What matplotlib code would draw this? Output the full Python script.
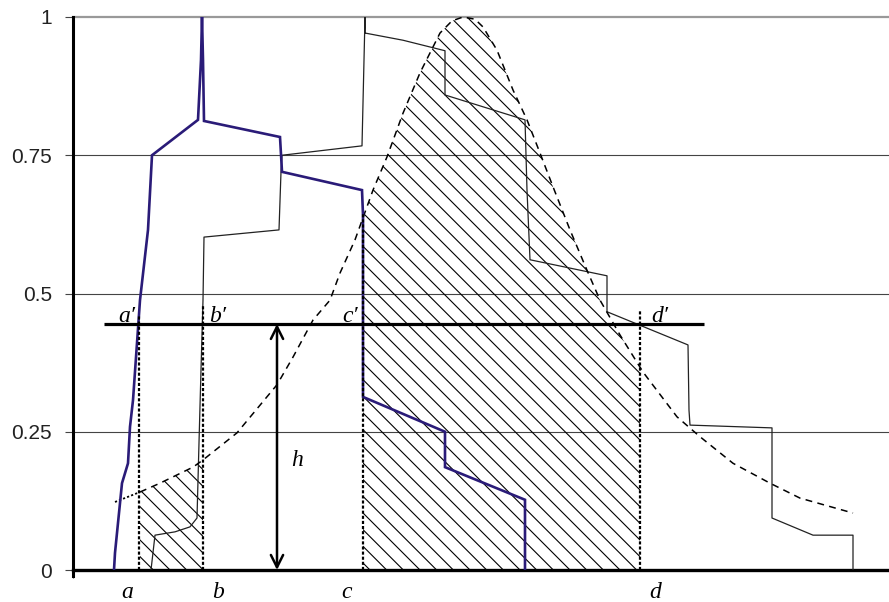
import numpy as np
import matplotlib
matplotlib.use("Agg")
import matplotlib.pyplot as plt
from matplotlib.patches import Rectangle

# ---- data (x in horizontal chart units, y in membership 0..1) ----
blue_x = [114, 115, 122, 128, 130, 133, 140, 148, 152, 198, 201, 202, 203, 204, 280, 282, 362, 363, 363, 445, 445, 525, 525]
blue_y = [0, 0.031, 0.157, 0.193, 0.259, 0.307, 0.488, 0.615, 0.750, 0.814, 0.922, 1.0, 0.922, 0.812, 0.783, 0.720, 0.687, 0.642, 0.313, 0.250, 0.186, 0.127, 0]

thin_x = [151, 155, 175, 190, 197, 199, 201, 203, 204, 279, 281, 282, 362, 364, 365, 365, 403, 445, 445, 525, 527, 530, 607, 607, 688, 689, 690, 772, 772, 813, 853, 853]
thin_y = [0, 0.063, 0.069, 0.078, 0.094, 0.230, 0.362, 0.488, 0.602, 0.615, 0.720, 0.750, 0.767, 0.922, 1.0, 0.971, 0.958, 0.939, 0.859, 0.814, 0.687, 0.561, 0.532, 0.467, 0.407, 0.289, 0.262, 0.257, 0.094, 0.063, 0.063, 0]

dash_x = [140, 160, 193, 203, 237, 277, 293, 313, 330, 340, 355, 373, 387, 403, 420, 440, 452, 463, 475, 483, 497, 513, 527, 540, 553, 570, 587, 600, 620, 643, 677, 700, 733, 770, 800, 853]
dash_y = [0.141, 0.157, 0.186, 0.199, 0.248, 0.335, 0.385, 0.452, 0.488, 0.537, 0.597, 0.687, 0.747, 0.826, 0.899, 0.971, 0.993, 1.0, 0.996, 0.982, 0.940, 0.868, 0.814, 0.754, 0.693, 0.615, 0.542, 0.488, 0.425, 0.358, 0.277, 0.241, 0.193, 0.157, 0.130, 0.103]
dot_x = [115, 140]
dot_y = [0.123, 0.141]

h_level = 0.445
h_line_x = [104, 704]
cut_names = ["a", "b", "c", "d"]
cut_x = [139, 203, 363, 640]
cut_top = [0.46, 0.48, 0.645, 0.47]
y_ticks = [0, 0.25, 0.5, 0.75, 1]
y_tick_labels = ["0", "0.25", "0.5", "0.75", "1"]

plt.rcParams["hatch.linewidth"] = 0.8
plt.rcParams["hatch.color"] = "black"

fig = plt.figure(figsize=(8.89, 6.02), dpi=100)
ax = fig.add_axes([73 / 889, 32 / 602, 816 / 889, 553 / 602])
ax.set_xlim(73, 889)
ax.set_ylim(0, 1)

# grid lines
for yv in y_ticks[1:-1]:
    ax.axhline(yv, color="#444444", lw=0.8, zorder=1)
ax.axhline(1, color="#999999", lw=1.6, zorder=1, clip_on=False)

# hatched areas under the dashed curve
for lo, hi in [(cut_x[0], cut_x[1]), (cut_x[2], cut_x[3])]:
    poly = ax.fill_between(dash_x, 0, dash_y, facecolor="none", edgecolor="black",
                           hatch="\\\\", lw=0, zorder=2)
    rect = Rectangle((lo, 0), hi - lo, 1.1, transform=ax.transData)
    poly.set_clip_path(rect)

# curves
ax.plot(thin_x, thin_y, color="#222222", lw=0.9, zorder=3)
ax.plot(dash_x, dash_y, color="black", lw=1.1, ls=(0, (4.5, 3.5)), zorder=3)
ax.plot(dot_x, dot_y, color="black", lw=1.3, ls=(0, (1.2, 1.2)), zorder=3)
ax.plot(blue_x, blue_y, color="#2a1b78", lw=1.9, zorder=4, solid_joinstyle="miter")

# vertical cut lines
for xv, top in zip(cut_x, cut_top):
    ax.plot([xv, xv], [0, top], color="black", lw=1.6, ls=(0, (1.4, 0.9)), zorder=5)

# alpha-cut horizontal line
ax.plot(h_line_x, [h_level, h_level], color="black", lw=2.3, zorder=6, solid_capstyle="butt")

# double arrow h
ax.annotate("", xy=(277, h_level), xytext=(277, 0),
            arrowprops=dict(arrowstyle="<->", color="black", lw=1.8, mutation_scale=22,
                            shrinkA=0, shrinkB=0), zorder=6)

serif = ["Liberation Serif", "DejaVu Serif"]
ax.text(297, 0.188, "h", fontsize=17, style="italic", family=serif, ha="center", va="baseline")

label_x = [127, 218, 347, 655]
prime_x = [127, 218, 350, 660]
for name, lx, px in zip(cut_names, label_x, prime_x):
    ax.text(lx, -0.05, name, fontsize=17, style="italic", family=serif,
            ha="center", va="baseline", clip_on=False)
    ax.text(px, 0.448, name + "\u2032", fontsize=17, style="italic", family=serif,
            ha="center", va="baseline", zorder=7)

# axes styling
for s in ["top", "right"]:
    ax.spines[s].set_visible(False)
ax.spines["left"].set_linewidth(2.2)
ax.spines["bottom"].set_linewidth(2.4)
ax.spines["left"].set_bounds(-0.01, 1)
ax.set_yticks(y_ticks)
ax.set_yticklabels(y_tick_labels, family="Liberation Sans", fontsize=15, color="#222222")
ax.tick_params(axis="y", length=6, width=0.8, color="#444444", pad=9)
ax.set_xticks([73])
ax.set_xticklabels([""])
ax.tick_params(axis="x", length=6, width=0.8, color="#444444")

fig.savefig("out.png", dpi=100)
